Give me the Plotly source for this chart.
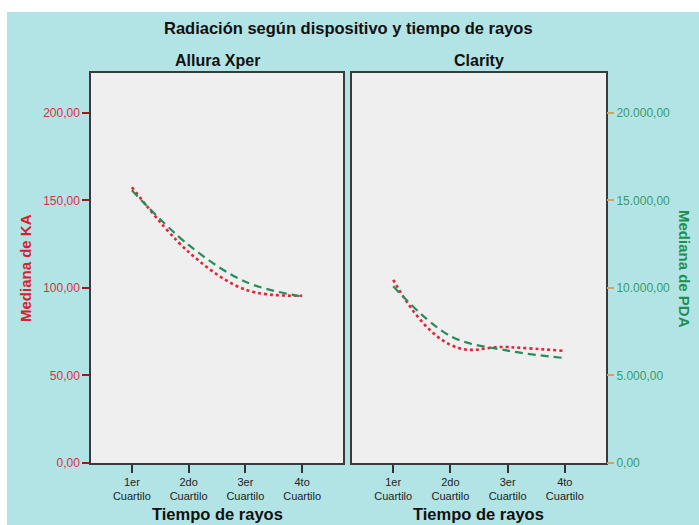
import plotly.graph_objects as go

categories = ["1er<br>Cuartilo", "2do<br>Cuartilo", "3er<br>Cuartilo", "4to<br>Cuartilo"]
panels = ["Allura Xper", "Clarity"]
ka_allura = [157.5, 120.5, 99.0, 95.5]
pda_allura = [15570, 12450, 10350, 9500]
ka_clarity = [104.6, 67.5, 66.2, 64.0]
pda_clarity = [10090, 7250, 6420, 5990]
ka_ticks = [0, 50, 100, 150, 200]
pda_ticks = [0, 5000, 10000, 15000, 20000]

xs = list(range(len(categories)))
FONT = "Arial, Liberation Sans, sans-serif"
RED = "#e0263a"
GREEN = "#2a8c5c"
CYAN = "#b2e4e6"
KA_MAX = 222.7
PDA_MAX = KA_MAX * 100

W, H = 699, 532
REF_H = 525


def py(y_ref):
    # reference pixel row -> paper fraction
    return 1 - (y_ref / REF_H)


red_line = dict(color=RED, width=2.6, dash="dot", shape="spline")
green_line = dict(color=GREEN, width=2.2, dash="8px,5px", shape="spline")

fig = go.Figure()
fig.add_trace(go.Scatter(x=xs, y=ka_allura, xaxis="x", yaxis="y", mode="lines",
                         line=red_line, showlegend=False))
fig.add_trace(go.Scatter(x=xs, y=pda_allura, xaxis="x", yaxis="y3", mode="lines",
                         line=green_line, showlegend=False))
fig.add_trace(go.Scatter(x=xs, y=ka_clarity, xaxis="x2", yaxis="y2", mode="lines",
                         line=dict(red_line, smoothing=1.3), showlegend=False))
fig.add_trace(go.Scatter(x=xs, y=pda_clarity, xaxis="x2", yaxis="y4", mode="lines",
                         line=green_line, showlegend=False))

ydom = [py(463), py(73)]
xdom1 = [91 / W, 343 / W]
xdom2 = [352 / W, 606 / W]

xcommon = dict(range=[-0.72, 3.72], tickmode="array", tickvals=xs, ticktext=categories,
               ticks="outside", ticklen=8, tickwidth=1.5, tickcolor="#333333",
               showline=True, linecolor="#3a3a3a", linewidth=1.5, mirror=True,
               showgrid=False, zeroline=False,
               tickfont=dict(family=FONT, size=11, color="#222222"))

fig.update_layout(
    width=W, height=H,
    margin=dict(l=0, r=0, t=0, b=0),
    paper_bgcolor=CYAN,
    plot_bgcolor="#efefef",
    separators=",.",
    font=dict(family=FONT),
    xaxis=dict(domain=xdom1, anchor="y", **xcommon),
    xaxis2=dict(domain=xdom2, anchor="y2", **xcommon),
    yaxis=dict(domain=ydom, anchor="x", range=[0, KA_MAX], tickmode="array",
               tickvals=ka_ticks, tickformat=".2f",
               ticks="outside", ticklen=7, tickwidth=1.5, tickcolor="#a01818",
               tickfont=dict(family=FONT, size=12, color="#d83040"),
               showline=True, linecolor="#3a3a3a", linewidth=1.5, mirror=True,
               showgrid=False, zeroline=False),
    yaxis2=dict(domain=ydom, anchor="x2", range=[0, KA_MAX], showticklabels=False, ticks="",
                showline=True, linecolor="#3a3a3a", linewidth=1.5, mirror=True,
                showgrid=False, zeroline=False),
    yaxis3=dict(overlaying="y", anchor="x", range=[0, PDA_MAX], visible=False),
    yaxis4=dict(overlaying="y2", anchor="x2", side="right", range=[0, PDA_MAX],
                tickmode="array", tickvals=pda_ticks, tickformat=",.2f",
                ticks="outside", ticklen=7, tickwidth=1.5, tickcolor="#e0a050",
                tickfont=dict(family=FONT, size=12, color="#3a9a68"),
                showline=False, showgrid=False, zeroline=False),
    shapes=[
        dict(type="rect", xref="paper", yref="paper", x0=-0.01, x1=1.01, y0=py(12), y1=1.01,
             fillcolor="white", line=dict(width=0), layer="below"),
        dict(type="rect", xref="paper", yref="paper", x0=-0.01, x1=7 / W, y0=-0.01, y1=1.01,
             fillcolor="white", line=dict(width=0), layer="below"),
    ],
)

ann = [
    dict(text="<b>Radiación según dispositivo y tiempo de rayos</b>", x=348 / W, y=py(28),
         font=dict(size=16.5, color="#111111")),
    dict(text="<b>" + panels[0] + "</b>", x=(xdom1[0] + xdom1[1]) / 2, y=py(61),
         font=dict(size=16, color="#111111")),
    dict(text="<b>" + panels[1] + "</b>", x=(xdom2[0] + xdom2[1]) / 2, y=py(61),
         font=dict(size=16, color="#111111")),
    dict(text="<b>Tiempo de rayos</b>", x=(xdom1[0] + xdom1[1]) / 2, y=py(514),
         font=dict(size=16.5, color="#111111")),
    dict(text="<b>Tiempo de rayos</b>", x=(xdom2[0] + xdom2[1]) / 2, y=py(514),
         font=dict(size=16.5, color="#111111")),
    dict(text="<b>Mediana de KA</b>", x=25 / W, y=py(268), textangle=-90,
         font=dict(size=15, color="#d8202c")),
    dict(text="<b>Mediana de PDA</b>", x=685 / W, y=py(269), textangle=90,
         font=dict(size=15, color="#1f9050")),
]
for a in ann:
    a.update(xref="paper", yref="paper", showarrow=False, xanchor="center", yanchor="middle")
    a["font"]["family"] = FONT
fig.update_layout(annotations=ann)

post = (
    "document.documentElement.style.margin='0';"
    "document.body.style.margin='0';"
    "document.body.style.overflow='hidden';"
)
fig.write_html("out.html", config={"displayModeBar": False}, post_script=post)
